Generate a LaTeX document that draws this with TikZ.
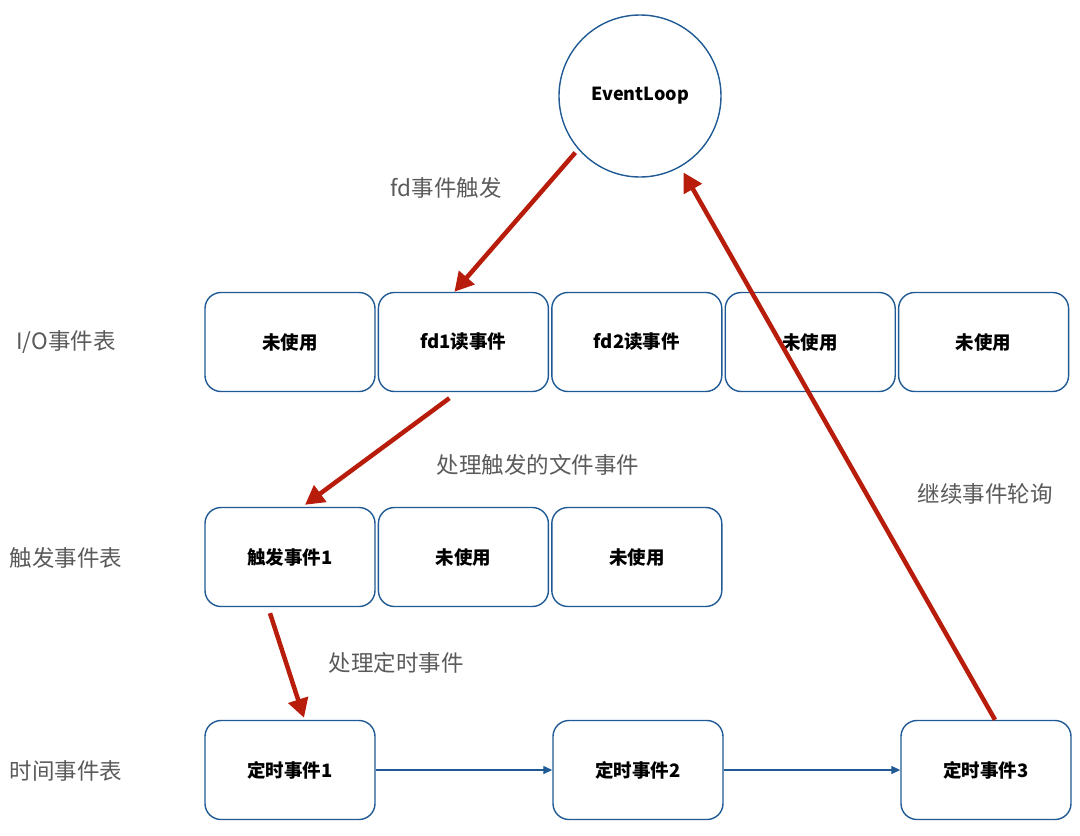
\documentclass[tikz,border=0pt]{standalone}
\usepackage{fontspec}
\setmainfont{Noto Sans CJK SC}
\usetikzlibrary{positioning,arrows.meta,calc}

\definecolor{slotblue}{HTML}{1F5A94}
\definecolor{flowred}{HTML}{B81C0A}
\definecolor{notegray}{HTML}{5A5A5A}

\tikzset{
  slot/.style={draw=slotblue,line width=1.4pt,rounded corners=16pt,fill=white,
    minimum width=170pt,minimum height=99pt,inner sep=0pt,
    font=\fontsize{18.5}{22}\selectfont\bfseries},
  tablename/.style={text=notegray,font=\fontsize{22.5}{26}\selectfont},
  note/.style={text=notegray,font=\fontsize{22.5}{26}\selectfont},
  flow/.style={draw=flowred,line width=4.5pt,-{Triangle[length=19pt,width=20pt]}},
  chain/.style={draw=slotblue,line width=1.3pt,-{Triangle[length=9pt,width=8pt]}}
}

\begin{document}
\begin{tikzpicture}[x=1pt,y=-1pt]% [ show background grid ]
\useasboundingbox (0,0) rectangle (1080,836);

\node[draw=slotblue,line width=1.4pt,circle,minimum size=162pt,inner sep=0pt,
  font=\fontsize{18}{22}\selectfont\bfseries] (loop) at (640,96) {EventLoop};

% I/O events
\node[slot] (io1) at (290,342) {未使用};
\node[slot,right=2pt of io1] (io2) {fd1读事件};
\node[slot,right=2pt of io2] (io3) {fd2读事件};
\node[slot,right=2pt of io3] (io4) {未使用};
\node[slot,right=2pt of io4] (io5) {未使用};

% fired events
\node[slot] (fired1) at (290,557) {触发事件1};
\node[slot,right=2pt of fired1] (fired2) {未使用};
\node[slot,right=2pt of fired2] (fired3) {未使用};

% time events
\node[slot] (timer1) at (290,770) {定时事件1};
\node[slot] (timer2) at (638,770) {定时事件2};
\node[slot] (timer3) at (986,770) {定时事件3};

\node[tablename] (ioname) at (66,342) {I/O事件表};
\node[tablename] (firedname) at (66,558) {触发事件表};
\node[tablename] (timername) at (66,771) {时间事件表};

\draw[chain] (timer1) -- (timer2);
\draw[chain] (timer2) -- (timer3);

\draw[flow] ($(loop.221)+(-3,3)$) -- ([xshift=-9pt]io2.north);
\draw[flow] ([xshift=-14pt,yshift=-6pt]io2.south) -- ([xshift=15pt,yshift=2pt]fired1.north);
\draw[flow] ([xshift=-20pt,yshift=-6pt]fired1.south) -- ([xshift=14pt,yshift=2pt]timer1.north);
\draw[flow] ([xshift=9pt]timer3.north) -- ($(loop.center)!88pt!([xshift=9pt]timer3.north)$);

\node[note] (firenote) at (446,188) {fd事件触发};
\node[note] (filenote) at (538,465) {处理触发的文件事件};
\node[note] (timenote) at (396,663) {处理定时事件};
\node[note] (pollnote) at (985,494) {继续事件轮询};
\end{tikzpicture}
\end{document}
